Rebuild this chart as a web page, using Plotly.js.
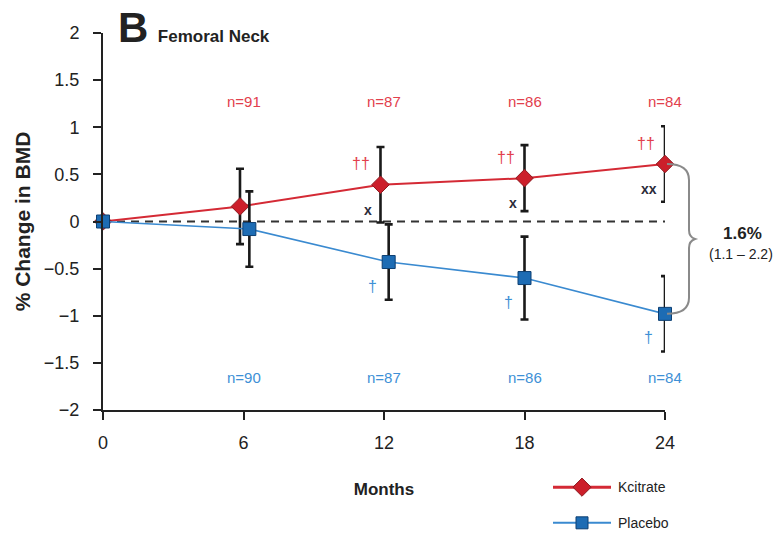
<!DOCTYPE html>
<html>
<head>
<meta charset="utf-8">
<script src="https://cdn.plot.ly/plotly-3.0.1.min.js"></script>
<style>
  html, body { margin: 0; padding: 0; background: #fff; }
  #chart { width: 775px; height: 533px; }
</style>
</head>
<body>
<div id="chart"></div>
<script>
// Femoral neck BMD, % change from baseline (mean ± 95% CI)
const months = [0, 6, 12, 18, 24];
const xKcitrate = [0, 5.85, 11.85, 18, 24];   // points staggered slightly so bars do not overlap
const xPlacebo = [0, 6.25, 12.2, 18, 24];
const kcitrate = [0, 0.16, 0.39, 0.46, 0.61];
const kcitrateErr = [0, 0.40, 0.40, 0.35, 0.40];
const placebo = [0, -0.08, -0.43, -0.60, -0.98];
const placeboErr = [0, 0.40, 0.40, 0.44, 0.40];

const nMonths = [6, 12, 18, 24];
const nKcitrate = [91, 87, 86, 84];
const nPlacebo = [90, 87, 86, 84];

const kcitrateDagger = ['', '', '††', '††', '††'];
const kcitrateCross = ['', '', 'x', 'x', 'xx'];
const placeboDagger = ['', '', '†', '†', '†'];

const yTicks = [-2, -1.5, -1, -0.5, 0, 0.5, 1, 1.5, 2];
const yTickText = ['−2', '−1.5', '−1', '−0.5', '0', '0.5', '1', '1.5', '2'];
const xTicks = [0, 6, 12, 18, 24];
const diffCI = '(1.1 – 2.2)';

const FONT = '"Liberation Sans", Arial, Helvetica, sans-serif';
const INK = '#222';
const RED = '#d42a35', RED_MK = '#cc1f2b', RED_EDGE = '#8e1a20', RED_TXT = '#e2404c';
const BLUE = '#3a8ad0', BLUE_MK = '#1d6cb4', BLUE_EDGE = '#0d3f72', BLUE_TXT = '#3e90d6';

// page geometry: plot area spans the whole page right/bottom of the margins,
// main axes occupy a sub-domain so the legend and brace can sit beside them
const W = 775, H = 533, ML = 103, MT = 33;
const X0 = 103, X1 = 665, Y0 = 410, Y1 = 33;
const px2x = p => (p - ML) / (W - ML);
const py2y = p => (H - p) / (H - MT);
const yPx = v => Y0 - (v + 2) / 4 * (Y0 - Y1);

const errStyle = { type: 'data', visible: true, thickness: 2.6, width: 4, color: '#1a1a1a' };

const traces = [
  {
    x: xKcitrate, y: kcitrate, name: 'Kcitrate', type: 'scatter', mode: 'lines+markers',
    line: { color: RED, width: 2 },
    marker: { symbol: 'diamond', size: 13.5, color: RED_MK, line: { color: RED_EDGE, width: 1 } },
    error_y: Object.assign({ array: kcitrateErr }, errStyle),
    cliponaxis: false, showlegend: false, xaxis: 'x', yaxis: 'y'
  },
  {
    x: xPlacebo, y: placebo, name: 'Placebo', type: 'scatter', mode: 'lines+markers',
    line: { color: BLUE, width: 1.6 },
    marker: { symbol: 'square', size: 13, color: BLUE_MK, line: { color: BLUE_EDGE, width: 1 } },
    error_y: Object.assign({ array: placeboErr }, errStyle),
    cliponaxis: false, showlegend: false, xaxis: 'x', yaxis: 'y'
  }
];

// legend keys drawn on a small helper axis pair
const keyRows = [{ y: 0.83, line: RED, lw: 3, sym: 'diamond', size: 14, fill: RED_MK, edge: RED_EDGE, label: 'Kcitrate' },
                 { y: 0.17, line: BLUE, lw: 2, sym: 'square', size: 12, fill: BLUE_MK, edge: BLUE_EDGE, label: 'Placebo' }];
keyRows.forEach(k => {
  traces.push({ x: [0, 1], y: [k.y, k.y], mode: 'lines', line: { color: k.line, width: k.lw },
    xaxis: 'x2', yaxis: 'y2', showlegend: false, hoverinfo: 'skip', cliponaxis: false });
  traces.push({ x: [0.5], y: [k.y], mode: 'markers',
    marker: { symbol: k.sym, size: k.size, color: k.fill, line: { color: k.edge, width: 1 } },
    xaxis: 'x2', yaxis: 'y2', showlegend: false, hoverinfo: 'skip', cliponaxis: false });
});

const annotations = [];
nMonths.forEach((m, i) => {
  annotations.push({ x: m, y: 1.27, xref: 'x', yref: 'y', text: 'n=' + nKcitrate[i], showarrow: false,
    xanchor: 'center', font: { family: FONT, size: 15, color: RED_TXT } });
  annotations.push({ x: m, y: -1.66, xref: 'x', yref: 'y', text: 'n=' + nPlacebo[i], showarrow: false,
    xanchor: 'center', font: { family: FONT, size: 15, color: BLUE_TXT } });
});
months.forEach((m, i) => {
  if (kcitrateDagger[i]) annotations.push({ x: xKcitrate[i], y: kcitrate[i], xref: 'x', yref: 'y',
    text: kcitrateDagger[i], showarrow: false, xanchor: 'right', xshift: -8, yshift: 21,
    font: { family: FONT, size: 16, color: RED_TXT } });
  if (kcitrateCross[i]) annotations.push({ x: xKcitrate[i], y: kcitrate[i], xref: 'x', yref: 'y',
    text: '<b>' + kcitrateCross[i] + '</b>', showarrow: false, xanchor: 'right', xshift: -6, yshift: -25,
    font: { family: FONT, size: 14, color: '#2b2b3a' } });
  if (placeboDagger[i]) annotations.push({ x: xPlacebo[i], y: placebo[i], xref: 'x', yref: 'y',
    text: placeboDagger[i], showarrow: false, xanchor: 'right', xshift: -10, yshift: -24,
    font: { family: FONT, size: 16, color: BLUE_TXT } });
});

// between-group difference at 24 months
const last = months.length - 1;
const diff = kcitrate[last] - placebo[last];
const yR = yPx(kcitrate[last]), yB = yPx(placebo[last]), yM = (yR + yB) / 2;
annotations.push({ x: px2x(742), y: py2y(yM - 5), xref: 'paper', yref: 'paper', xanchor: 'center', yanchor: 'middle',
  text: '<b>' + diff.toFixed(1) + '%</b>', showarrow: false, font: { family: FONT, size: 17, color: INK } });
annotations.push({ x: px2x(741), y: py2y(yM + 15), xref: 'paper', yref: 'paper', xanchor: 'center', yanchor: 'middle',
  text: diffCI, showarrow: false, font: { family: FONT, size: 14, color: INK } });

keyRows.forEach(k => {
  annotations.push({ x: px2x(616), y: py2y(532 - k.y * 54), xref: 'paper', yref: 'paper', text: k.label,
    showarrow: false, xanchor: 'left', yanchor: 'middle', font: { family: FONT, size: 14, color: INK } });
});

// curly brace joining the two 24-month means
const P = (x, y) => px2x(x) + ',' + py2y(y);
const bx = 689, tip = 695, sx = X1 + 2;
const bracePath = 'M' + P(sx, yR) + ' Q' + P(bx, yR) + ' ' + P(bx, yR + 16) +
  ' L' + P(bx, yM - 9) + ' Q' + P(bx, yM - 2) + ' ' + P(tip, yM) +
  ' Q' + P(bx, yM + 2) + ' ' + P(bx, yM + 9) +
  ' L' + P(bx, yB - 16) + ' Q' + P(bx, yB) + ' ' + P(sx, yB);

const layout = {
  width: W, height: H,
  margin: { l: ML, r: 0, t: MT, b: 0, pad: 0 },
  paper_bgcolor: '#fff', plot_bgcolor: 'rgba(0,0,0,0)',
  font: { family: FONT, color: INK },
  title: {
    text: '<span style="font-size:42px">B</span>&nbsp; Femoral Neck',
    font: { family: FONT, size: 17, weight: 'bold', color: INK },
    x: 118 / W, xanchor: 'left', xref: 'container',
    y: 1 - 36 / H, yanchor: 'middle', yref: 'container'
  },
  xaxis: {
    domain: [0, px2x(X1)], range: [0, 24], anchor: 'y',
    tickvals: xTicks, ticktext: xTicks.map(String), ticks: 'outside', ticklen: 8, tickwidth: 2, tickcolor: INK,
    showline: true, linecolor: INK, linewidth: 2, showgrid: false, zeroline: false,
    tickfont: { family: FONT, size: 18, color: INK }, ticklabelstandoff: 7,
    title: { text: 'Months', font: { family: FONT, size: 17, weight: 'bold', color: INK }, standoff: 32 },
    fixedrange: true
  },
  yaxis: {
    domain: [py2y(Y0), 1], range: [-2, 2], anchor: 'x',
    tickvals: yTicks, ticktext: yTickText, ticks: 'outside', ticklen: 8, tickwidth: 2, tickcolor: INK,
    showline: true, linecolor: INK, linewidth: 2, showgrid: false, zeroline: false,
    tickfont: { family: FONT, size: 18, color: INK }, ticklabelstandoff: 10,
    title: { text: '% Change in BMD', font: { family: FONT, size: 21, weight: 'bold', color: INK }, standoff: 8 },
    fixedrange: true
  },
  xaxis2: { domain: [px2x(553), px2x(611)], range: [0, 1], anchor: 'y2', visible: false, fixedrange: true },
  yaxis2: { domain: [py2y(532), py2y(478)], range: [0, 1], anchor: 'x2', visible: false, fixedrange: true },
  shapes: [
    { type: 'line', xref: 'x', yref: 'y', x0: 0, x1: 24, y0: 0, y1: 0, layer: 'below',
      line: { color: '#333', width: 2, dash: '8px,6px' } },
    { type: 'path', xref: 'paper', yref: 'paper', path: bracePath, line: { color: '#8a8a8a', width: 2 } }
  ],
  annotations: annotations,
  showlegend: false
};

Plotly.newPlot('chart', traces, layout, { displayModeBar: false, staticPlot: true });
</script>
</body>
</html>
